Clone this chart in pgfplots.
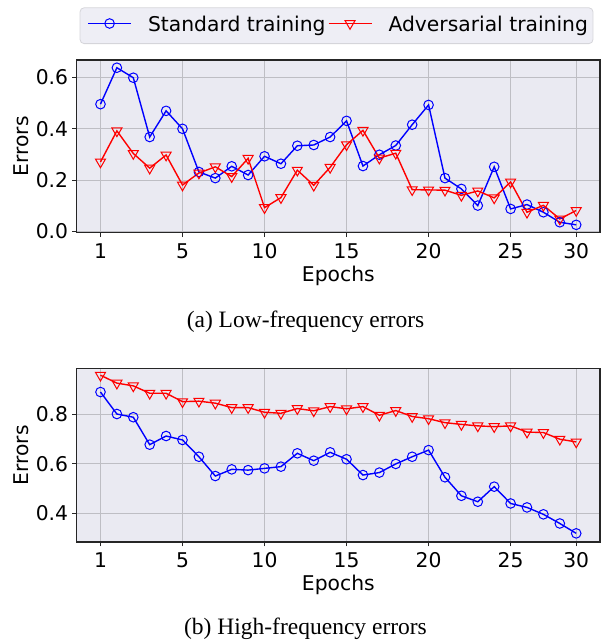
\documentclass[border=0pt]{standalone}
\usepackage{fontspec}
\setmainfont{DejaVu Sans}
\newfontfamily\capfont{Liberation Serif}
\usepackage{pgfplots}
\pgfplotsset{compat=1.18}
\definecolor{axbg}{HTML}{EAEAF2}
\definecolor{gridc}{RGB}{190,190,196}
\definecolor{legbg}{HTML}{EEEEF5}
\definecolor{legedge}{HTML}{D5D5DA}
\definecolor{spine}{HTML}{262626}
\newcommand\fsz{\fontsize{20.3}{24}\selectfont}
\pgfplotsset{
 myax/.style={
  scale only axis, width=523.3pt,
  xmin=-1.45, xmax=30.45,
  xtick={0,5,10,15,20,25,29}, xticklabels={1,5,10,15,20,25,30},
  axis background/.style={fill=axbg},
  grid=major, major grid style={gridc, line width=0.9pt},
  axis line style={spine, line width=1.1pt},
  tick align=outside, major tick length=4.4pt, tick style={spine, line width=1pt},
  tick pos=left,
  tick label style={font=\fsz},
  /pgf/number format/assume math mode=true,
  yticklabel style={/pgf/number format/fixed, /pgf/number format/fixed zerofill, /pgf/number format/precision=1, inner sep=0pt, anchor=east, xshift=-4pt},
  xticklabel style={inner sep=0pt, anchor=north, yshift=-6pt},
  xlabel={Epochs}, ylabel={Errors},
  xlabel style={font=\fsz, at={(axis description cs:0.5,0)}, anchor=base, yshift=-48.3pt},
  ylabel style={font=\fsz, at={(axis description cs:-0.0925,0.5)}, anchor=base},
 },
 stdline/.style={blue, line width=1.4pt, mark=o, mark size=4.8pt, mark options={line width=1pt, solid, sharp corners}},
 advline/.style={red, line width=1.4pt, mark=triangle, mark size=5.8pt, mark options={rotate=180, line width=1pt, solid, sharp corners}},
}
\begin{document}
\begin{tikzpicture}
\path[use as bounding box] (0pt,0pt) rectangle (602pt,-640pt);
\begin{axis}[myax, at={(76.7pt,-60pt)}, anchor=north west, height=172.7pt,
  ymin=-0.0046, ymax=0.668, ytick={0,0.2,0.4,0.6},
  legend columns=2,
  legend style={at={(axis description cs:0.4965,1)}, anchor=south, yshift=16pt,
    fill=legbg, draw=legedge, line width=0.8pt, rounded corners=4pt,
    inner xsep=5pt, inner ysep=7.6pt, column sep=0pt, font=\fsz,
    nodes={inner xsep=0pt, inner ysep=0pt, text height=15.7pt, text depth=4.9pt}},
  legend image code/.code={\draw[sharp corners, mark repeat=2, mark phase=2, #1, line width=1.6pt] plot coordinates {(0pt,2.2pt) (21.5pt,2.2pt) (43pt,2.2pt)}; \path[draw=none, fill=none] (-3pt,0pt) -- (60pt,0pt);},
]
\addplot[stdline] coordinates {
(0,0.496) (1,0.638) (2,0.599) (3,0.368) (4,0.470) (5,0.400) (6,0.232) (7,0.208) (8,0.254) (9,0.220)
(10,0.293) (11,0.264) (12,0.334) (13,0.337) (14,0.368) (15,0.431) (16,0.255) (17,0.299) (18,0.335) (19,0.416)
(20,0.493) (21,0.208) (22,0.166) (23,0.101) (24,0.252) (25,0.088) (26,0.105) (27,0.075) (28,0.036) (29,0.026)};
\addlegendentry{Standard training}
\addplot[advline] coordinates {
(0,0.271) (1,0.392) (2,0.304) (3,0.247) (4,0.298) (5,0.181) (6,0.228) (7,0.252) (8,0.214) (9,0.285)
(10,0.093) (11,0.132) (12,0.239) (13,0.180) (14,0.250) (15,0.338) (16,0.394) (17,0.286) (18,0.305) (19,0.163)
(20,0.162) (21,0.161) (22,0.141) (23,0.158) (24,0.131) (25,0.193) (26,0.075) (27,0.102) (28,0.049) (29,0.082)};
\addlegendentry{Adversarial training}
\end{axis}
\begin{axis}[myax, at={(76.7pt,-368.3pt)}, anchor=north west, height=173.7pt,
  ymin=0.283, ymax=0.986, ytick={0.4,0.6,0.8}]
\addplot[stdline] coordinates {
(0,0.890) (1,0.801) (2,0.788) (3,0.677) (4,0.712) (5,0.696) (6,0.628) (7,0.550) (8,0.577) (9,0.574)
(10,0.581) (11,0.588) (12,0.642) (13,0.612) (14,0.646) (15,0.618) (16,0.554) (17,0.564) (18,0.599) (19,0.628)
(20,0.655) (21,0.545) (22,0.470) (23,0.446) (24,0.507) (25,0.439) (26,0.423) (27,0.395) (28,0.358) (29,0.318)};
\addplot[advline] coordinates {
(0,0.958) (1,0.926) (2,0.915) (3,0.885) (4,0.885) (5,0.851) (6,0.853) (7,0.845) (8,0.827) (9,0.827)
(10,0.808) (11,0.804) (12,0.823) (13,0.814) (14,0.831) (15,0.822) (16,0.831) (17,0.796) (18,0.815) (19,0.791)
(20,0.782) (21,0.766) (22,0.759) (23,0.753) (24,0.750) (25,0.753) (26,0.728) (27,0.726) (28,0.699) (29,0.688)};
\end{axis}
\node[font=\capfont\fontsize{23.5}{28}\selectfont, anchor=base] at (305.5pt,-327.7pt) {(a) Low-frequency errors};
\node[font=\capfont\fontsize{23.5}{28}\selectfont, anchor=base] at (305.5pt,-634pt) {(b) High-frequency errors};
\end{tikzpicture}
\end{document}
